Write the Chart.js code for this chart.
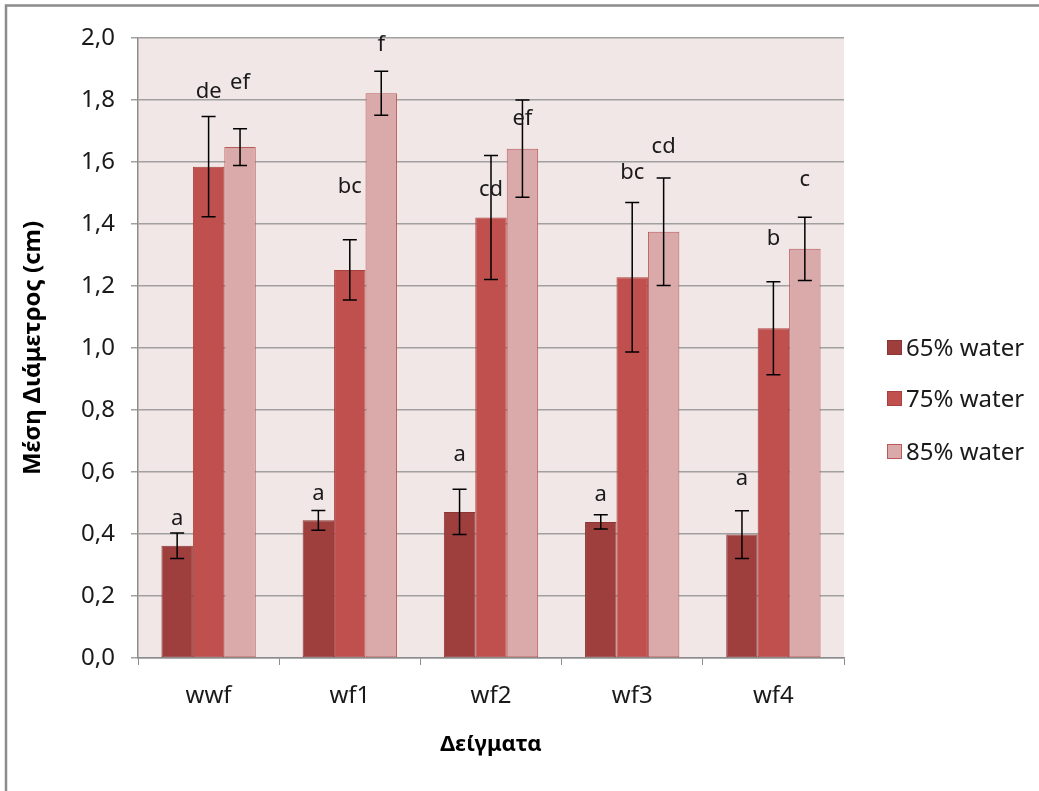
<!DOCTYPE html>
<html>
<head>
<meta charset="utf-8">
<script src="https://cdn.jsdelivr.net/npm/chart.js@4.4.1/dist/chart.umd.min.js"></script>
<style>
  html, body { margin: 0; padding: 0; background: #ffffff; }
  #wrap { position: relative; width: 1039px; height: 791px; }
</style>
</head>
<body>
<div id="wrap"><canvas id="c" width="1039" height="791"></canvas></div>
<script>
// Samples and treatments
const categories = ['wwf', 'wf1', 'wf2', 'wf3', 'wf4'];
const seriesNames = ['65% water', '75% water', '85% water'];

// Mean diameter (cm) per treatment
const mean65 = [0.362, 0.444, 0.471, 0.439, 0.398];
const mean75 = [1.585, 1.252, 1.421, 1.228, 1.064];
const mean85 = [1.648, 1.822, 1.643, 1.375, 1.320];

// Standard deviations (error bars)
const sd65 = [0.041, 0.032, 0.073, 0.023, 0.077];
const sd75 = [0.162, 0.097, 0.200, 0.241, 0.150];
const sd85 = [0.059, 0.071, 0.157, 0.173, 0.102];

// Significance groups (Duncan letters)
const letters65 = ['a', 'a', 'a', 'a', 'a'];
const letters75 = ['de', 'bc', 'cd', 'bc', 'b'];
const letters85 = ['ef', 'f', 'ef', 'cd', 'c'];

// Y axis ticks
const yTicks = [0, 0.2, 0.4, 0.6, 0.8, 1.0, 1.2, 1.4, 1.6, 1.8, 2.0];

// Height (axis units) where each letter is written
const letterPlace = [
  [0.450, 0.531, 0.655, 0.528, 0.579],
  [1.828, 1.521, 1.510, 1.566, 1.354],
  [1.855, 1.978, 1.738, 1.650, 1.542]
];

const FONT = "'Noto Sans', 'Open Sans', sans-serif";
const fills = ['#9e3f3e', '#c0504d', '#daa9a9'];
const borders = ['#8a3634', '#a9403e', '#b85a59'];

const means = [mean65, mean75, mean85];
const sds = [sd65, sd75, sd85];
const letters = [letters65, letters75, letters85];

const datasets = seriesNames.map((name, i) => ({
  label: name,
  data: means[i],
  backgroundColor: fills[i],
  borderColor: borders[i],
  borderWidth: 1,
  borderSkipped: false,
  sd: sds[i],
  letters: letters[i],
  letterPlace: letterPlace[i],
  barPercentage: 1.0,
  categoryPercentage: 0.668
}));

// Outer frame and plot-area fill
const backdrop = {
  id: 'backdrop',
  beforeDraw(chart) {
    const ctx = chart.ctx;
    const a = chart.chartArea;
    ctx.save();
    ctx.fillStyle = '#ffffff';
    ctx.fillRect(0, 0, chart.width, chart.height);
    ctx.strokeStyle = '#8c8c8c';
    ctx.lineWidth = 2.5;
    ctx.strokeRect(6, 5.5, chart.width + 20, chart.height + 20);
    ctx.fillStyle = '#f2e7e7';
    ctx.fillRect(a.left, a.top, a.right - a.left, a.bottom - a.top);
    ctx.restore();
  }
};

// Error bars and letter labels
const annotations = {
  id: 'annotations',
  afterDatasetsDraw(chart) {
    const ctx = chart.ctx;
    const y = chart.scales.y;
    ctx.save();
    chart.data.datasets.forEach((ds, di) => {
      const meta = chart.getDatasetMeta(di);
      meta.data.forEach((bar, i) => {
        const v = ds.data[i];
        const top = y.getPixelForValue(v + ds.sd[i]);
        const bot = y.getPixelForValue(v - ds.sd[i]);
        const x = bar.x;
        ctx.strokeStyle = '#000000';
        ctx.lineWidth = 1.5;
        ctx.beginPath();
        ctx.moveTo(x, top); ctx.lineTo(x, bot);
        ctx.moveTo(x - 7, top); ctx.lineTo(x + 7, top);
        ctx.moveTo(x - 7, bot); ctx.lineTo(x + 7, bot);
        ctx.stroke();
      });
    });
    ctx.fillStyle = '#1a1a1a';
    ctx.font = '22px ' + FONT;
    ctx.textAlign = 'center';
    ctx.textBaseline = 'middle';
    chart.data.datasets.forEach((ds, di) => {
      const meta = chart.getDatasetMeta(di);
      meta.data.forEach((bar, i) => {
        ctx.fillText(ds.letters[i], bar.x, y.getPixelForValue(ds.letterPlace[i]));
      });
    });
    ctx.restore();
  }
};

// Legend on the right
const sideLegend = {
  id: 'sideLegend',
  afterDraw(chart) {
    const ctx = chart.ctx;
    ctx.save();
    ctx.font = '24px ' + FONT;
    ctx.textBaseline = 'middle';
    ctx.textAlign = 'left';
    const rows = [348, 399, 452];
    chart.data.datasets.forEach((ds, i) => {
      const cy = rows[i];
      ctx.fillStyle = ds.backgroundColor;
      ctx.fillRect(887.5, cy - 7.5, 14, 14);
      ctx.strokeStyle = ds.borderColor;
      ctx.lineWidth = 1;
      ctx.strokeRect(887.5, cy - 7.5, 14, 14);
      ctx.fillStyle = '#1a1a1a';
      ctx.fillText(ds.label, 906, cy + 1);
    });
    ctx.restore();
  }
};

new Chart(document.getElementById('c'), {
  type: 'bar',
  data: { labels: categories, datasets },
  options: {
    responsive: false,
    animation: false,
    devicePixelRatio: 1,
    layout: { padding: { left: 0, top: 38, right: 195, bottom: 0 } },
    plugins: {
      legend: { display: false },
      tooltip: { enabled: false }
    },
    scales: {
      x: {
        offset: true,
        grid: {
          offset: true,
          drawOnChartArea: false,
          drawTicks: true,
          tickLength: 7,
          color: '#8c8c8c',
          lineWidth: 1
        },
        border: { display: true, color: '#8c8c8c', width: 1.5 },
        ticks: {
          color: '#1a1a1a',
          font: { family: FONT, size: 24 },
          padding: 17,
          maxRotation: 0
        },
        title: {
          display: true,
          text: 'Δείγματα',
          color: '#000000',
          font: { family: FONT, size: 22, weight: 'bold' },
          padding: { top: 0, bottom: 33 }
        },
        afterFit(scale) { scale.height = 133; }
      },
      y: {
        min: 0,
        max: 2.0,
        afterBuildTicks(scale) { scale.ticks = yTicks.map(v => ({ value: v })); },
        grid: {
          color: '#a0a0a0',
          lineWidth: 1.5,
          drawTicks: true,
          tickLength: 7
        },
        border: { display: true, color: '#8c8c8c', width: 1.5 },
        ticks: {
          color: '#1a1a1a',
          font: { family: FONT, size: 24 },
          padding: 16,
          callback: (v) => Number(v).toFixed(1).replace('.', ',')
        },
        title: {
          display: true,
          text: 'Μέση Διάμετρος (cm)',
          color: '#000000',
          font: { family: FONT, size: 24, weight: 'bold' },
          padding: { top: 19, bottom: 0 }
        },
        afterFit(scale) { scale.width = 138; }
      }
    }
  },
  plugins: [backdrop, annotations, sideLegend]
});
</script>
</body>
</html>
